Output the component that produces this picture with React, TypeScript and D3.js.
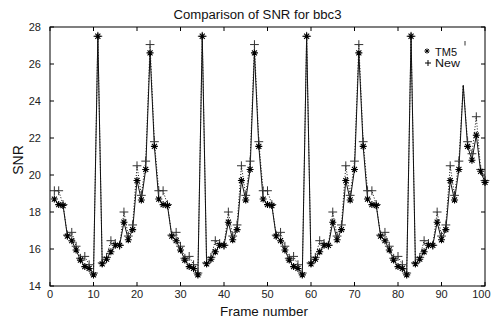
import React from "react";
import * as d3 from "d3";

// Frame numbers 1..100
const frames: number[] = d3.range(1, 101);

// TM5 SNR per frame
const tm5: number[] = [
  18.7, 18.4, 18.35, 16.7, 16.45, 15.95, 15.4, 15.05, 14.95, 14.6, 27.5, 15.2,
  15.45, 15.85, 16.2, 16.2, 17.45, 16.5, 17.05, 19.7, 18.65, 20.3, 26.6, 21.55,
  18.7, 18.4, 18.35, 16.7, 16.45, 15.95, 15.4, 15.05, 14.95, 14.6, 27.5, 15.2,
  15.45, 15.85, 16.2, 16.2, 17.45, 16.5, 17.05, 19.7, 18.65, 20.3, 26.6, 21.55,
  18.7, 18.4, 18.35, 16.7, 16.45, 15.95, 15.4, 15.05, 14.95, 14.6, 27.5, 15.2,
  15.45, 15.85, 16.2, 16.2, 17.45, 16.5, 17.05, 19.7, 18.65, 20.3, 26.6, 21.55,
  18.7, 18.4, 18.35, 16.7, 16.45, 15.95, 15.4, 15.05, 14.95, 14.6, 27.5, 15.2,
  15.45, 15.85, 16.2, 16.2, 17.45, 16.5, 17.05, 19.7, 18.65, 20.3, 24.85, 21.55,
  20.8, 22.15, 20.2, 19.6,
];

// New method SNR per frame
const newer: number[] = [
  19.15, 19.15, 18.4, 16.75, 16.9, 16.15, 15.5, 15.6, 15.15, 14.7, 27.5, 15.25,
  15.55, 16.45, 16.3, 16.2, 18.0, 16.7, 17.3, 20.5, 18.9, 20.75, 27.05, 21.8,
  19.15, 19.15, 18.4, 16.75, 16.9, 16.15, 15.5, 15.6, 15.15, 14.7, 27.5, 15.25,
  15.55, 16.45, 16.3, 16.2, 18.0, 16.7, 17.3, 20.5, 18.9, 20.75, 27.05, 21.8,
  19.15, 19.15, 18.4, 16.75, 16.9, 16.15, 15.5, 15.6, 15.15, 14.7, 27.5, 15.25,
  15.55, 16.45, 16.3, 16.2, 18.0, 16.7, 17.3, 20.5, 18.9, 20.75, 27.05, 21.8,
  19.15, 19.15, 18.4, 16.75, 16.9, 16.15, 15.5, 15.6, 15.15, 14.7, 27.5, 15.25,
  15.55, 16.45, 16.3, 16.2, 18.0, 16.7, 17.3, 20.5, 18.9, 20.75, 24.85, 21.8,
  21.15, 23.15, 20.3, 19.7,
];

// Frames drawn without a marker in the reference
const unmarkedFrames: number[] = [95];

const xTicks: number[] = [0, 10, 20, 30, 40, 50, 60, 70, 80, 90, 100];
const yTicks: number[] = [14, 16, 18, 20, 22, 24, 26, 28];

const W = 491;
const H = 322;
const L = 50, R = 485, T = 27, B = 286;
const FONT = "'Liberation Sans', Arial, sans-serif";

function starPath(s: number): string {
  const d = s * 0.72;
  return `M${-s},0L${s},0M0,${-s}L0,${s}M${-d},${-d}L${d},${d}M${-d},${d}L${d},${-d}`;
}
function plusPath(s: number): string {
  return `M${-s},0L${s},0M0,${-s}L0,${s}`;
}

export default function App() {
  const x = d3.scaleLinear().domain([0, 100]).range([L, R]);
  const y = d3.scaleLinear().domain([14, 28]).range([B, T]);

  const line = d3
    .line<number>()
    .x((_, i) => x(frames[i]))
    .y((v) => y(v));

  const star = starPath(3.5);
  const plus = plusPath(4.4);
  const tick = 4;

  return (
    <svg
      width={W}
      height={H}
      style={{ position: "absolute", left: 0, top: 0, background: "#fff" }}
      fontFamily={FONT}
    >
      <rect x={0} y={0} width={W} height={H} fill="#fff" />

      {/* data lines */}
      <path d={line(tm5) || ""} fill="none" stroke="#111" strokeWidth={1} />
      <path
        d={line(newer) || ""}
        fill="none"
        stroke="#111"
        strokeWidth={1}
        strokeDasharray="1,1.8"
      />

      {/* markers */}
      {newer.map((v, i) =>
        unmarkedFrames.includes(frames[i]) ? null : (
          <path
            key={"p" + i}
            d={plus}
            transform={`translate(${x(frames[i])},${y(v)})`}
            stroke="#333"
            strokeWidth={1}
            fill="none"
          />
        )
      )}
      {tm5.map((v, i) =>
        unmarkedFrames.includes(frames[i]) ? null : (
          <path
            key={"s" + i}
            d={star}
            transform={`translate(${x(frames[i])},${y(v)})`}
            stroke="#000"
            strokeWidth={1.1}
            fill="none"
          />
        )
      )}

      {/* axes box */}
      <rect x={L} y={T} width={R - L} height={B - T} fill="none" stroke="#000" strokeWidth={1} />

      {xTicks.map((t) => (
        <g key={"xt" + t}>
          <line x1={x(t)} x2={x(t)} y1={B} y2={B - tick} stroke="#000" />
          <line x1={x(t)} x2={x(t)} y1={T} y2={T + tick} stroke="#000" />
          <text
            x={t === 100 ? W - 0.5 : x(t)}
            y={298}
            textAnchor={t === 100 ? "end" : "middle"}
            fontSize={11}
            fill="#222"
          >
            {t}
          </text>
        </g>
      ))}
      {yTicks.map((t) => (
        <g key={"yt" + t}>
          <line x1={L} x2={L + tick} y1={y(t)} y2={y(t)} stroke="#000" />
          <line x1={R} x2={R - tick} y1={y(t)} y2={y(t)} stroke="#000" />
          <text x={41} y={y(t) + 4} textAnchor="end" fontSize={11} fill="#222">
            {t}
          </text>
        </g>
      ))}

      {/* titles */}
      <text
        x={173.5}
        y={18.5}
        fontSize={12.5}
        fill="#111"
        textLength={168}
        lengthAdjust="spacingAndGlyphs"
      >
        Comparison of SNR for bbc3
      </text>
      <text
        x={220}
        y={316}
        fontSize={13.5}
        fill="#111"
        textLength={88}
        lengthAdjust="spacingAndGlyphs"
      >
        Frame number
      </text>
      <text
        transform="translate(23.3,160) rotate(-90)"
        textAnchor="middle"
        fontSize={14}
        fill="#111"
      >
        SNR
      </text>

      {/* legend */}
      <path d={starPath(2.6)} transform="translate(427,51)" stroke="#000" strokeWidth={1} fill="none" />
      <text x={435} y={55.5} fontSize={10.5} fill="#111" textLength={22} lengthAdjust="spacingAndGlyphs">
        TM5
      </text>
      <path d={plusPath(3)} transform="translate(428,63)" stroke="#000" strokeWidth={1} fill="none" />
      <text x={435} y={66.5} fontSize={10.5} fill="#111" textLength={25} lengthAdjust="spacingAndGlyphs">
        New
      </text>
      <line x1={465} x2={465} y1={41} y2={45.5} stroke="#333" strokeWidth={1} />
    </svg>
  );
}
